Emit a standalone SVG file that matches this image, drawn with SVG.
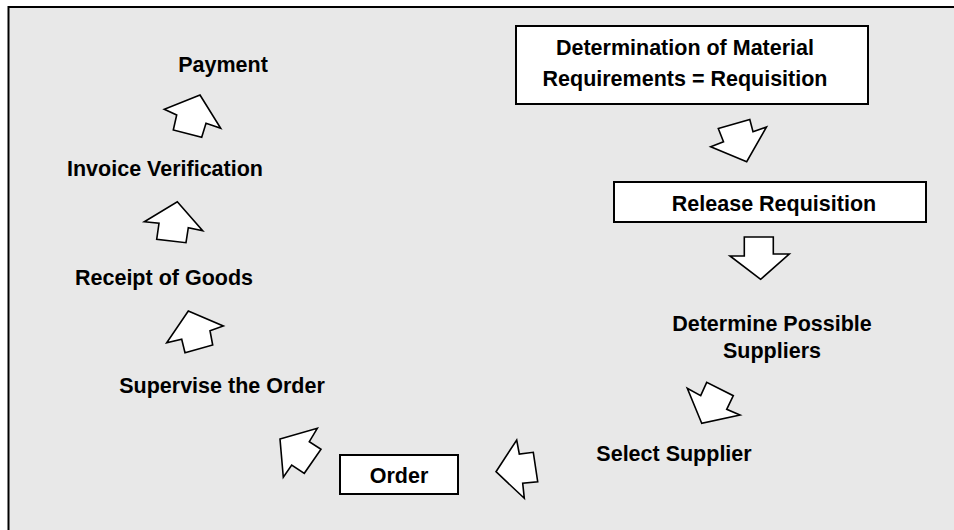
<svg xmlns="http://www.w3.org/2000/svg" width="954" height="530" viewBox="0 0 954 530">
  <style>
    .frame { fill: #e8e8e8; stroke: #000; stroke-width: 2; }
    .box { fill: #fff; stroke: #000; stroke-width: 2; }
    .arrow { fill: #fff; stroke: #000; stroke-width: 1.6; stroke-linejoin: miter; }
    .label { font-family: "Liberation Sans", Arial, sans-serif; font-weight: bold; font-size: 21.5px; fill: #000; text-anchor: middle; }
  </style>
  <rect width="954" height="530" fill="#fff"/>
  <rect class="frame" x="8.5" y="7" width="960" height="540"/>

  <!-- process steps -->
  <g id="requisition">
    <rect class="box" x="516" y="26" width="352" height="78"/>
    <text class="label" x="685" y="54.5">Determination of Material</text>
    <text class="label" x="685" y="86">Requirements = Requisition</text>
  </g>
  <g id="release">
    <rect class="box" x="614" y="182" width="312" height="40"/>
    <text class="label" x="774" y="210.5">Release Requisition</text>
  </g>
  <g id="suppliers">
    <text class="label" x="772" y="331">Determine Possible</text>
    <text class="label" x="772" y="358">Suppliers</text>
  </g>
  <g id="select">
    <text class="label" x="674" y="461">Select Supplier</text>
  </g>
  <g id="order">
    <rect class="box" x="340" y="455" width="118" height="39"/>
    <text class="label" x="399" y="482.5">Order</text>
  </g>
  <g id="supervise">
    <text class="label" x="222" y="393">Supervise the Order</text>
  </g>
  <g id="receipt">
    <text class="label" x="164" y="285">Receipt of Goods</text>
  </g>
  <g id="invoice">
    <text class="label" x="165" y="176">Invoice Verification</text>
  </g>
  <g id="payment">
    <text class="label" x="223" y="72">Payment</text>
  </g>

  <!-- block arrows between steps -->
  <g id="connectors">
    <polygon class="arrow" points="746.7,161.7 710.7,146.7 723.5,141.7 718.3,128.5 749.8,119.5 753,131.7 766.5,127"/>
    <polygon class="arrow" points="760.7,279.3 730,256 744.3,256 744.3,237 773.3,237 773.3,254 789.3,254"/>
    <polygon class="arrow" points="701.7,423.3 687.3,388.3 700.7,395.7 706.7,382.3 733.3,395.7 726.7,409.3 740,415"/>
    <polygon class="arrow" points="496,471.7 516.7,440 519.3,454 533.3,452.3 537.7,481.7 522.7,483.3 524.3,498.3"/>
    <polygon class="arrow" points="280,439 317.3,428.3 309.3,441.7 321,449.3 304.3,473.3 291.7,465 283.3,477.3"/>
    <polygon class="arrow" points="188.3,311 223.3,326 210,330.7 212.7,345 185,352.7 181.7,339.3 166.7,342.7"/>
    <polygon class="arrow" points="177.3,201.7 202.7,230.7 188.3,227.7 186,242.7 156.7,239.3 159,223.3 144.3,221.7"/>
    <polygon class="arrow" points="200,95 220.7,128.3 206,123.3 201.7,137.3 173.3,130 176.7,115 164.3,109.3"/>
  </g>
</svg>
